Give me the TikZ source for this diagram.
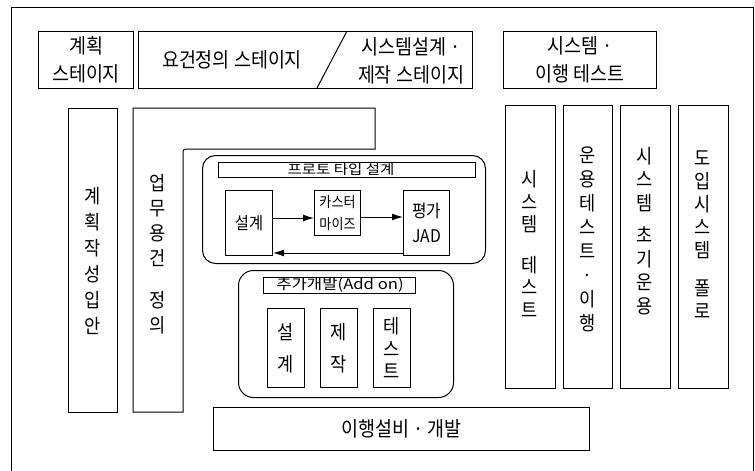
\documentclass[tikz,border=0pt]{standalone}
\usepackage{fontspec}
\setmainfont{Noto Sans CJK KR}[FakeStretch=0.9]
\newfontfamily\widekr{Noto Sans CJK KR}[FakeStretch=1.15]
\usetikzlibrary{arrows.meta,calc}
\tikzset{
  box/.style={draw, line width=1pt, inner sep=0pt, anchor=north west, align=center},
  rbox/.style={box, rounded corners=13pt},
  big/.style={font=\fontsize{20.5}{28}\selectfont},
  txt/.style={inner sep=0pt, align=center},
  hdr/.style={txt, font=\widekr\fontsize{13.5}{16}\selectfont},
  arr/.style={-{Latex[length=11pt,width=7pt]}, line width=1pt},
}
\newcommand\vfont[1]{\fontsize{19.5}{#1}\selectfont}
\begin{document}
\begin{tikzpicture}[x=1pt,y=-1pt]
\useasboundingbox (0,0) rectangle (755,471);
% outer frame (open at the bottom)
\coordinate (f1) at (11,471); \coordinate (f2) at (11,7);
\coordinate (f3) at (753,7); \coordinate (f4) at (753,471);
\draw[line width=0.9pt] (f1) -- (f2) -- (f3) -- (f4);

% top stage boxes
\node[box, big, minimum width=95pt, minimum height=57pt] (plan) at (38,31) {계획\\스테이지};
\node[box, minimum width=334pt, minimum height=57pt] (req) at (138,31) {};
\node[txt, big] (reqt) at (232,60) {요건정의 스테이지};
\node[txt, big] (dest) at (411,61) {시스템설계 ·\\제작 스테이지};
\coordinate (s1) at (347,31); \coordinate (s2) at (317,88);
\draw[line width=1pt] (s1) -- (s2);
\node[box, big, minimum width=153pt, minimum height=57pt] (test) at (503,31) {시스템 ·\\이행 테스트};

% left columns
\node[box, font=\vfont{26}, minimum width=49pt, minimum height=304pt] (pc) at (68,108) {계\\획\\작\\성\\입\\안};
\coordinate (u1) at (133,108); \coordinate (u2) at (375,108);
\coordinate (u3) at (375,149); \coordinate (u4) at (189,149);
\coordinate (u5) at (183,149); \coordinate (u6) at (183,155);
\coordinate (u7) at (183,412); \coordinate (u8) at (133,412);
\draw[line width=1pt] (u1) -- (u2) -- (u3) -- (u4) .. controls (u5) .. (u6) -- (u7) -- (u8) -- cycle;
\node[txt, font=\vfont{25}] (ut) at (158,254) {업\\무\\용\\건\\[17pt]정\\의};

% prototype block
\node[rbox, minimum width=283pt, minimum height=108pt] (proto) at (202,155) {};
\node[box, minimum width=257pt, minimum height=15pt] (ph) at (218,161.5) {};
\node[hdr] (pht) at (341,169) {프로토 타입 설계};
\node[box, font=\fontsize{17}{25}\selectfont, minimum width=47pt, minimum height=65pt] (d1) at (225,190) {설계};
\node[box, font=\fontsize{14.5}{22}\selectfont, minimum width=46pt, minimum height=45pt] (d2) at (314,190) {카스터\\마이즈};
\node[box, font=\fontsize{17.5}{25}\selectfont, minimum width=46pt, minimum height=65pt] (d3) at (403,190) {평가\\JAD};
\draw[arr] ([yshift=5pt]d1.east) -- ([yshift=-5pt]d2.west);
\draw[arr] ([yshift=-4pt]d2.east) -- ([yshift=6pt]d3.west);
\draw[arr] ([yshift=-30pt]d3.west) -- ([yshift=-30pt]d1.east);

% add-on block
\node[rbox, rounded corners=15pt, minimum width=215pt, minimum height=127pt] (addon) at (238,270) {};
\node[box, minimum width=152pt, minimum height=16pt] (ah) at (263,277) {};
\node[hdr, font=\widekr\fontsize{14.5}{16}\selectfont] (aht) at (340,285) {추가개발(Add on)};
\node[box, font=\vfont{32}, minimum width=37pt, minimum height=79pt] (a1) at (267,308) {설\\계};
\node[box, font=\vfont{32}, minimum width=37pt, minimum height=79pt] (a2) at (320,308) {제\\작};
\node[box, font=\vfont{22.5}, minimum width=37pt, minimum height=79pt] (a3) at (373,308) {테\\스\\트};

% bottom box
\node[box, big, minimum width=376pt, minimum height=43pt] (mig) at (213,407) {이행설비 · 개발};

% right columns
\node[box, minimum width=50pt, minimum height=283pt] (r1) at (505,105) {};
\node[box, minimum width=49pt, minimum height=283pt] (r2) at (563,105) {};
\node[box, minimum width=50pt, minimum height=283pt] (r3) at (620,105) {};
\node[box, minimum width=50pt, minimum height=283pt] (r4) at (678,105) {};
\node[txt, font=\vfont{22.5}] (r1t) at (530,244) {시\\스\\템\\[18pt]테\\스\\트};
\node[txt, font=\vfont{24}] (r2t) at (587.5,239) {운\\용\\테\\스\\트\\·\\이\\행};
\node[txt, font=\vfont{23.5}] (r3t) at (645,231) {시\\스\\템\\[9pt]초\\기\\운\\용};
\node[txt, font=\vfont{23}] (r4t) at (703,235) {도\\입\\시\\스\\템\\[15pt]폴\\로};
\end{tikzpicture}
\end{document}
